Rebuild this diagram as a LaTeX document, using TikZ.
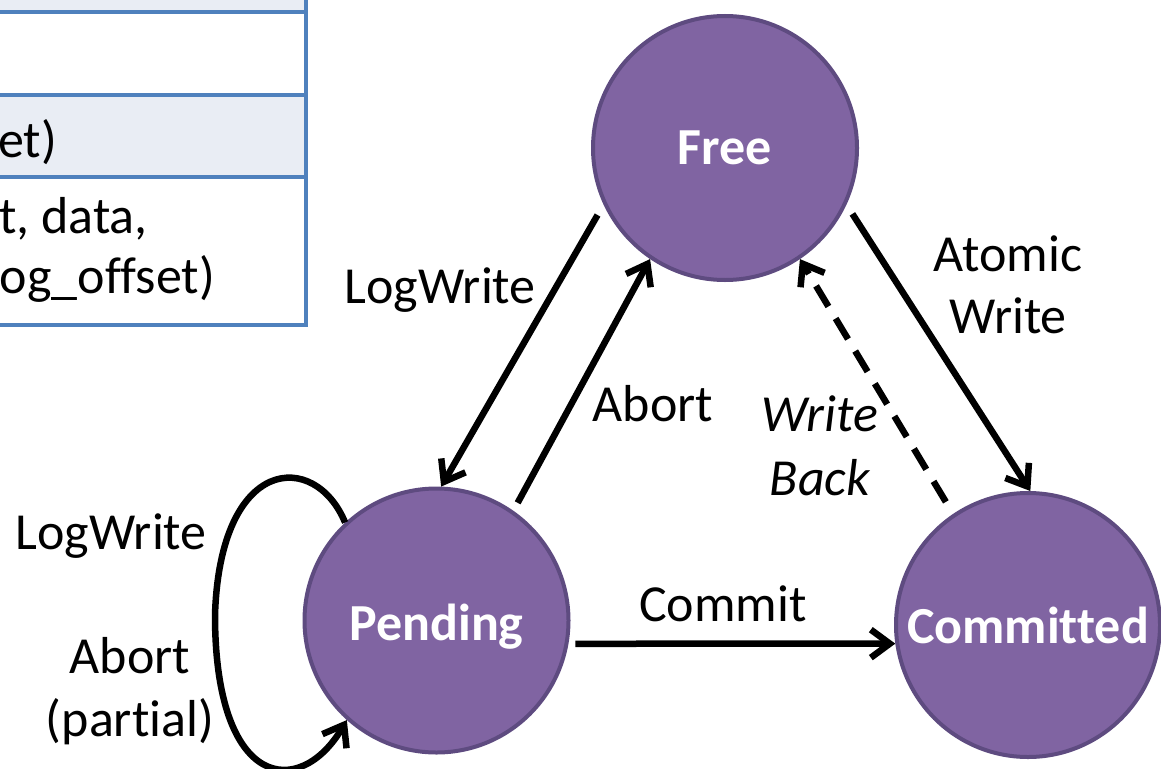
\documentclass[tikz,border=0pt]{standalone}
\usepackage{fontspec}
\setmainfont{Carlito}[Ligatures=NoCommon]
\usetikzlibrary{arrows.meta}
\definecolor{statefill}{HTML}{8064A2}
\definecolor{stateline}{HTML}{5E4B80}
\definecolor{tabline}{HTML}{4F81BD}
\definecolor{tabfill}{HTML}{E9EDF4}
\begin{document}
\begin{tikzpicture}[x=1pt,y=-1pt,
  state/.style={circle, fill=statefill, draw=stateline, line width=4pt,
    minimum size=264pt, inner sep=0pt, text=white,
    font=\fontsize{52}{62}\selectfont\bfseries, text depth=0pt},
  lbl/.style={font=\fontsize{52}{62}\selectfont, anchor=base, inner sep=0pt},
  ilbl/.style={lbl, font=\fontsize{52}{62}\selectfont\itshape},
  arr/.style={line width=6.5pt, -{Straight Barb[length=19pt,width=28pt]}},
  tabrule/.style={draw=tabline, line width=3.5pt}]
\useasboundingbox (0,0) rectangle (1161,768);
% partial table
\fill[tabfill] (-10,-10) rectangle (306,12);
\fill[tabfill] (-10,95) rectangle (306,177);
\draw[tabrule] (-10,12) -- (306,12);
\draw[tabrule] (-10,95) -- (306,95);
\draw[tabrule] (-10,177) -- (306,177);
\draw[tabrule] (-10,325) -- (306,325);
\draw[tabrule] (306,-10) -- (306,326.75);
\node[lbl, anchor=base east] (t1) at (57,157) {et)};
\node[lbl, anchor=base west] (t2) at (-1,233) {t, data,};
\node[lbl, anchor=base east] (t3) at (215,293) {og\_offset)};
% states
\node[state] (free) at (725,148) {Free};
\node[state] (pending) at (436.5,620.5) {\raisebox{-4pt}{Pending}};
\node[state] (committed) at (1028,625) {Committed};
% transitions
\draw[arr, shorten <=12pt] (free.205.5) -- (pending.88.5);
\draw[arr, shorten <=9pt] (pending.55.1) -- (free.236.1);
\draw[arr, shorten <=11pt] (free.335.6) -- (committed.89);
\draw[arr, shorten <=14pt, dash pattern=on 24pt off 14pt] (committed.124.7) -- (free.304.9);
\draw[arr, shorten <=7pt] (pending.-10.2) -- (committed.188.7);
\draw[arr] (pending.133.5) .. controls (315,450) and (220,455) .. (215,615)
  .. controls (215,790) and (300,800) .. (pending.228.6);
% labels
\node[lbl] (l1) at (111,549) {LogWrite};
\node[lbl] (l2) at (130,673) {Abort};
\node[lbl] (l3) at (130,736) {(partial)};
\node[lbl] (l4) at (440,303) {LogWrite};
\node[lbl] (l5) at (653,421) {Abort};
\node[lbl] (l6) at (1008,271) {Atomic};
\node[lbl] (l7) at (1008,333) {Write};
\node[ilbl] (l8) at (820,431) {Write};
\node[ilbl] (l9) at (820,495) {Back};
\node[lbl] (l10) at (723,621) {Commit};
\end{tikzpicture}
\end{document}
